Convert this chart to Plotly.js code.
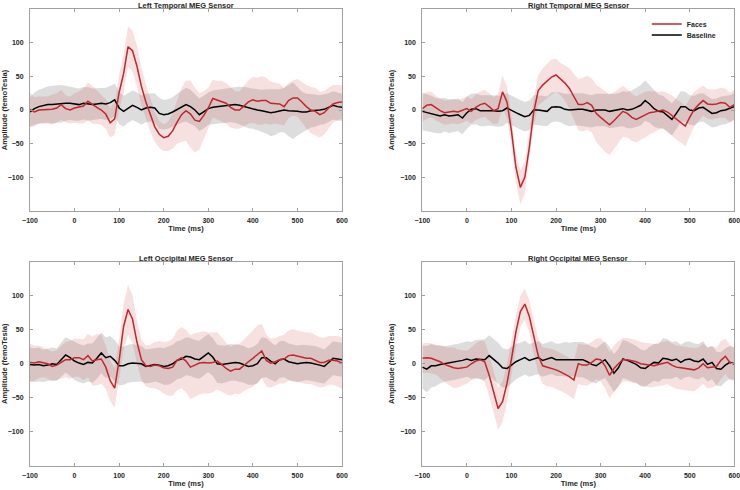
<!DOCTYPE html>
<html>
<head>
<meta charset="utf-8">
<script src="https://cdn.plot.ly/plotly-3.0.1.min.js"></script>
<style>
  html, body { margin: 0; padding: 0; background: #fff; }
  #chart { width: 740px; height: 490px; }
</style>
</head>
<body>
<div id="chart"></div>
<script>
// time axis (ms)
const timeMs = [
  -100, -90, -80, -70, -60, -50, -40, -30, -20, -10,
  0, 10, 20, 30, 40, 50, 60, 70, 80, 90,
  100, 110, 120, 130, 140, 150, 160, 170, 180, 190,
  200, 210, 220, 230, 240, 250, 260, 270, 280, 290,
  300, 310, 320, 330, 340, 350, 360, 370, 380, 390,
  400, 410, 420, 430, 440, 450, 460, 470, 480, 490,
  500, 510, 520, 530, 540, 550, 560, 570, 580, 590,
  600
];

const panelTitles = [
  'Left Temporal MEG Sensor',
  'Right Temporal MEG Sensor',
  'Left Occipital MEG Sensor',
  'Right Occipital MEG Sensor'
];
const seriesNames = ['Faces', 'Baseline'];
const xTicks = [-100, 0, 100, 200, 300, 400, 500, 600];
const yTicks = [-100, -50, 0, 50, 100];

// Left temporal
const ltFaces = [
  1, -3, 0, 0, 0, 1, 3, 8, 2, 0,
  3, 4, 6, 13, 8, 4, 0, -6, -19, -13,
  26, 54, 94, 88, 65, 35, 12, -8, -25, -36,
  -41, -39, -31, -18, -7, -1, -6, -15, -17, -8,
  3, 17, 15, 13, 10, 4, 0, 0, 6, 12,
  15, 13, 14, 14, 10, 10, 9, 5, 14, 18,
  18, 12, 5, 0, -2, -7, -4, 3, 9, 11,
  12
];
const ltFacesErr = [
  25, 22, 20, 20, 20, 22, 22, 22, 20, 20,
  22, 24, 26, 28, 28, 25, 22, 22, 22, 24,
  26, 28, 30, 30, 30, 28, 26, 24, 22, 20,
  20, 22, 26, 32, 40, 45, 50, 48, 42, 36,
  30, 28, 28, 30, 30, 30, 28, 28, 30, 32,
  34, 35, 36, 34, 32, 30, 30, 28, 26, 26,
  28, 30, 32, 34, 35, 34, 32, 30, 28, 26,
  25
];
const ltBase = [
  -3, 2, 5, 7, 8, 8, 9, 9, 10, 10,
  9, 8, 10, 9, 8, 9, 10, 9, 11, 15,
  3, -2, 3, 7, 4, 0, 3, 4, 3, -5,
  -7, -6, -3, 1, 5, 8, 5, 0, -7, -3,
  2, 4, 5, 6, 7, 8, 8, 7, 5, 3,
  2, 0, -1, -2, -4, -3, -1, 0, -1, -1,
  -2, -3, -3, -1, -1, 0, 1, 4, 7, 5,
  4
];
const ltBaseErr = [
  22, 24, 25, 26, 27, 28, 28, 28, 26, 25,
  25, 24, 24, 25, 24, 23, 23, 24, 25, 24,
  24, 23, 22, 22, 22, 22, 21, 21, 22, 23,
  22, 22, 22, 23, 24, 25, 25, 24, 24, 24,
  24, 25, 25, 26, 26, 26, 27, 28, 29, 30,
  30, 30, 31, 33, 35, 34, 32, 33, 38, 42,
  36, 30, 27, 25, 24, 22, 22, 21, 21, 21,
  20
];

// Right temporal
const rtFaces = [
  2, 7, 8, 3, -1, -4, -3, -2, -3, -1,
  2, -2, 4, 8, 10, 5, -1, 2, 27, 12,
  -31, -85, -115, -100, -56, -3, 29, 37, 43, 49,
  52, 46, 40, 32, 20, 8, 8, 11, 7, -5,
  -11, -17, -22, -16, -9, -2, -5, -11, -14, -11,
  -7, -4, -3, -1, 0, -3, -8, -14, -18, -24,
  -11, 1, 8, 14, 9, 8, 9, 11, 10, 4,
  8
];
const rtFacesErr = [
  20, 20, 19, 18, 18, 18, 18, 18, 18, 18,
  18, 18, 19, 20, 20, 20, 20, 22, 24, 24,
  22, 22, 25, 24, 22, 20, 22, 25, 26, 26,
  24, 24, 26, 30, 34, 38, 40, 40, 40, 42,
  44, 45, 45, 42, 40, 38, 36, 35, 34, 34,
  34, 32, 30, 28, 28, 28, 30, 30, 30, 30,
  28, 26, 24, 22, 22, 22, 22, 22, 22, 22,
  22
];
const rtBase = [
  -2, -4, -6, -8, -9, -7, -9, -8, -7, -12,
  -4, 1, 2, -1, -1, 0, -1, -2, -1, 3,
  -1, -4, -7, -10, -8, 0, 0, -1, -2, 4,
  5, 4, 1, 0, 1, 1, 1, -1, -2, 0,
  0, 0, -2, -1, 0, 2, 0, 1, 4, 7,
  14, 9, 2, -2, -3, -9, -14, -5, 5, 5,
  0, -1, 3, 4, -1, -5, -4, -1, 0, 2,
  5
];
const rtBaseErr = [
  28, 28, 27, 26, 26, 25, 25, 24, 24, 24,
  24, 23, 23, 23, 23, 23, 23, 23, 23, 22,
  22, 22, 22, 22, 22, 22, 22, 22, 22, 22,
  22, 22, 23, 24, 24, 24, 24, 24, 24, 24,
  24, 24, 25, 25, 25, 26, 27, 28, 29, 30,
  30, 28, 27, 25, 24, 24, 24, 23, 23, 22,
  22, 22, 21, 21, 21, 21, 21, 21, 21, 20,
  20
];

// Left occipital
const loFaces = [
  2, 1, 3, 2, 0, -4, -2, 2, 6, 6,
  9, 9, 6, 12, 4, 6, 7, -5, -25, -36,
  5, 55, 80, 66, 32, 6, -3, -4, -2, -3,
  -6, -7, -5, 5, 9, 4, -5, -2, 1, 2,
  1, 2, 4, -1, -7, -11, -8, -8, -2, 3,
  8, 14, 19, 5, 1, 3, 6, 7, 12, 13,
  11, 9, 8, 8, 5, 2, 2, 5, 5, 4,
  1
];
const loFacesErr = [
  28, 26, 24, 22, 22, 22, 22, 24, 26, 28,
  28, 28, 30, 32, 36, 38, 36, 32, 30, 29,
  30, 34, 37, 35, 32, 30, 30, 32, 34, 36,
  38, 40, 42, 44, 45, 46, 47, 47, 46, 46,
  45, 44, 42, 40, 38, 36, 36, 37, 38, 40,
  42, 42, 40, 38, 36, 35, 35, 36, 37, 38,
  38, 38, 38, 38, 38, 37, 36, 36, 36, 37,
  38
];
const loBase = [
  -1, -2, -1, -3, -2, 0, -1, 6, 13, 9,
  4, 1, -1, 2, 1, 8, 16, 9, 11, 5,
  -3, -3, 0, 1, 1, 0, -4, -3, -1, -2,
  -4, -3, 0, 5, 7, 11, 10, 7, 6, 11,
  16, 10, 0, -1, 0, 2, 2, 1, -1, -4,
  -3, 0, 9, 9, 4, 0, 6, 7, 3, 1,
  0, 1, 2, 1, 0, -2, -4, 2, 8, 7,
  6
];
const loBaseErr = [
  25, 25, 25, 24, 24, 24, 24, 25, 26, 27,
  28, 28, 28, 28, 29, 30, 30, 30, 30, 30,
  29, 28, 28, 28, 27, 26, 25, 25, 25, 26,
  27, 28, 28, 28, 28, 28, 28, 28, 28, 28,
  28, 28, 28, 28, 27, 27, 27, 27, 27, 27,
  28, 29, 30, 29, 28, 27, 27, 27, 27, 27,
  27, 27, 26, 26, 26, 26, 25, 25, 25, 25,
  25
];

// Right occipital
const roFaces = [
  8, 9, 8, 6, 3, -1, -4, -6, -7, -6,
  -5, 0, 4, 6, 3, -17, -42, -66, -56, -29,
  7, 47, 77, 88, 70, 42, 12, -3, -5, -6,
  -9, -12, -15, -19, -24, 0, -2, -2, 2, 7,
  6, -3, -17, -7, 0, 6, 6, 5, 3, 0,
  -1, -3, -3, -1, 0, 2, -2, -5, -6, -7,
  -8, -9, -6, 0, -6, -5, -4, 5, 11, 2,
  -1
];
const roFacesErr = [
  22, 22, 22, 22, 24, 26, 28, 30, 28, 26,
  24, 24, 26, 28, 30, 30, 30, 31, 30, 28,
  26, 24, 23, 23, 24, 25, 26, 27, 28, 28,
  28, 28, 28, 28, 28, 30, 30, 30, 30, 30,
  32, 33, 34, 34, 33, 32, 32, 32, 32, 32,
  32, 32, 32, 32, 32, 32, 32, 32, 32, 32,
  32, 32, 30, 30, 30, 30, 28, 28, 26, 26,
  24
];
const roBase = [
  -5, -8, -3, -3, -1, 0, 1, 2, 3, 5,
  7, 5, 7, 7, 6, 12, 7, 1, -6, -7,
  -2, 3, 6, 9, 5, 7, 9, 5, 7, 9,
  6, 6, 7, 6, 7, 6, 6, 3, -1, -3,
  2, 6, -3, -14, -6, 7, 5, 2, -1, -6,
  -7, -2, 2, 1, 8, 7, 5, 7, 2, 6,
  7, 4, 3, 7, -1, 2, -7, -8, -2, 2,
  0
];
const roBaseErr = [
  32, 34, 32, 30, 28, 26, 26, 26, 26, 26,
  26, 27, 28, 29, 30, 30, 30, 30, 29, 28,
  27, 26, 25, 25, 24, 24, 24, 24, 24, 24,
  24, 24, 25, 25, 25, 26, 26, 26, 26, 26,
  26, 27, 28, 28, 28, 28, 28, 28, 27, 27,
  27, 27, 27, 28, 30, 29, 27, 26, 26, 26,
  26, 26, 26, 26, 25, 25, 25, 25, 25, 24,
  24
];

const facesColor = '#c1272d';
const baseColor = '#000000';
const facesFill = 'rgba(210, 70, 70, 0.17)';
const baseFill = 'rgba(128, 128, 128, 0.27)';

function band(mean, err, fill, xa, ya) {
  const upper = mean.map((m, i) => m + err[i]);
  const lower = mean.map((m, i) => m - err[i]);
  return {
    x: timeMs.concat(timeMs.slice().reverse()),
    y: upper.concat(lower.slice().reverse()),
    xaxis: xa,
    yaxis: ya,
    type: 'scatter',
    mode: 'lines',
    fill: 'toself',
    fillcolor: fill,
    line: { width: 0 },
    hoverinfo: 'skip',
    showlegend: false,
  };
}

function meanLine(mean, name, color, xa, ya, legendId) {
  return {
    x: timeMs,
    y: mean,
    xaxis: xa,
    yaxis: ya,
    type: 'scatter',
    mode: 'lines',
    name: name,
    line: { color: color, width: 1.5 },
    showlegend: Boolean(legendId),
    legend: legendId || 'legend',
  };
}

const panels = [
  [ltFaces, ltFacesErr, ltBase, ltBaseErr],
  [rtFaces, rtFacesErr, rtBase, rtBaseErr],
  [loFaces, loFacesErr, loBase, loBaseErr],
  [roFaces, roFacesErr, roBase, roBaseErr],
];

// placement of the 4 plot areas
const xDomains = [[0.0405, 0.4622], [0.5707, 0.9923], [0.0405, 0.4622], [0.5707, 0.9923]];
const yDomains = [[0.5694, 0.9816], [0.5694, 0.9816], [0.0500, 0.4653], [0.0500, 0.4653]];

const legendStyle = {
  xanchor: 'left',
  yanchor: 'middle',
  bgcolor: 'rgba(0,0,0,0)',
  borderwidth: 0,
  font: { size: 7, weight: 'bold', color: '#262626' },
  itemwidth: 30,
  tracegroupgap: 0,
};

const traces = [];
const layout = {
  width: 740,
  height: 490,
  margin: { l: 0, r: 0, t: 0, b: 0 },
  paper_bgcolor: '#ffffff',
  plot_bgcolor: '#ffffff',
  font: { family: 'Liberation Sans, Arial, sans-serif', color: '#262626' },
  showlegend: true,
  legend: Object.assign({}, legendStyle, { x: 0.874, y: 0.951 }),
  legend2: Object.assign({}, legendStyle, { x: 0.874, y: 0.9286 }),
  annotations: [],
};

panels.forEach((p, k) => {
  const n = k === 0 ? '' : String(k + 1);
  const xa = 'x' + n;
  const ya = 'y' + n;
  const onLegend = k === 1;
  traces.push(band(p[2], p[3], baseFill, xa, ya));
  traces.push(band(p[0], p[1], facesFill, xa, ya));
  traces.push(meanLine(p[2], seriesNames[1], baseColor, xa, ya, onLegend ? 'legend2' : null));
  traces.push(meanLine(p[0], seriesNames[0], facesColor, xa, ya, onLegend ? 'legend' : null));

  const common = {
    showgrid: false,
    zeroline: false,
    showline: true,
    linecolor: '#a0a0a0',
    linewidth: 1,
    mirror: 'ticks',
    ticks: 'inside',
    ticklen: 3,
    tickcolor: '#a0a0a0',
    tickfont: { size: 7, weight: 'bold', color: '#262626' },
    ticklabeloverflow: 'allow',
    automargin: false,
  };
  layout['xaxis' + n] = Object.assign({}, common, {
    domain: xDomains[k],
    anchor: ya,
    range: [-100, 600],
    tickvals: xTicks,
    ticklabelstandoff: 3,
    title: { text: 'Time (ms)', font: { size: 7.5, weight: 'bold' }, standoff: 1 },
  });
  layout['yaxis' + n] = Object.assign({}, common, {
    domain: yDomains[k],
    anchor: xa,
    range: [-150, 150],
    tickvals: yTicks,
    ticklabelstandoff: 4,
    title: { text: 'Amplitude (femoTesla)', font: { size: 7.5, weight: 'bold' }, standoff: 4 },
  });
  layout.annotations.push({
    text: '<b>' + panelTitles[k] + '</b>',
    xref: xa + ' domain',
    yref: ya + ' domain',
    x: 0.5,
    y: 1,
    xanchor: 'center',
    yanchor: 'middle',
    yshift: 4,
    showarrow: false,
    font: { size: 7.5, color: '#262626' },
  });
});

Plotly.newPlot('chart', traces, layout, { displayModeBar: false, staticPlot: true });
</script>
</body>
</html>
